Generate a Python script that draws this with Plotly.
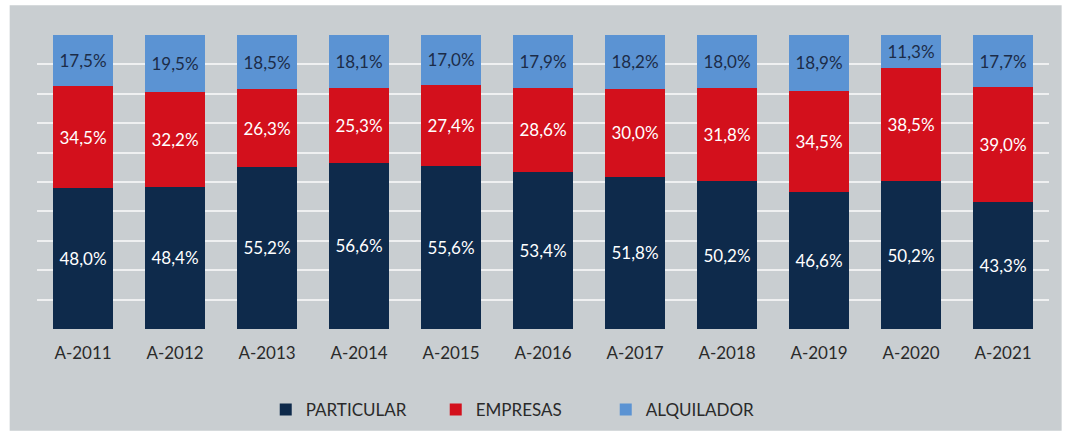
import plotly.graph_objects as go

years = ["A-2011", "A-2012", "A-2013", "A-2014", "A-2015", "A-2016",
         "A-2017", "A-2018", "A-2019", "A-2020", "A-2021"]
particular = [48.0, 48.4, 55.2, 56.6, 55.6, 53.4, 51.8, 50.2, 46.6, 50.2, 43.3]
empresas = [34.5, 32.2, 26.3, 25.3, 27.4, 28.6, 30.0, 31.8, 34.5, 38.5, 39.0]
alquilador = [17.5, 19.5, 18.5, 18.1, 17.0, 17.9, 18.2, 18.0, 18.9, 11.3, 17.7]

def fmt(v):
    return f"{v:.1f}%".replace(".", ",")

FONT = "Lato"
fig = go.Figure()
series = [
    ("PARTICULAR", particular, "#0e2a4b", "white"),
    ("EMPRESAS", empresas, "#d3101c", "white"),
    ("ALQUILADOR", alquilador, "#5b93d3", "#1c2c48"),
]
for name, vals, col, tcol in series:
    fig.add_trace(go.Bar(
        x=years, y=vals, name=name, marker_color=col,
        marker_line_width=0,
        text=[fmt(v) for v in vals], textposition="inside",
        insidetextanchor="middle", textangle=0,
        textfont=dict(color=tcol, size=17, family=FONT),
        constraintext="none",
    ))

fig.update_layout(
    barmode="stack",
    bargap=0.35,
    width=1069, height=439,
    margin=dict(l=37, r=20, t=35, b=109),
    paper_bgcolor="white",
    plot_bgcolor="rgba(0,0,0,0)",
    font=dict(family=FONT, size=16, color="#2a2a2a"),
    showlegend=True,
    legend=dict(orientation="h", x=0.478, xanchor="center", y=-0.21, yanchor="top",
                bgcolor="rgba(0,0,0,0)",
                font=dict(size=17, family=FONT, color="#2a2a2a"),
                itemwidth=30, traceorder="normal", entrywidth=125),
    shapes=[dict(type="rect", xref="paper", yref="paper",
                 x0=-0.027, x1=1.0125, y0=-0.346, y1=1.101,
                 fillcolor="#c9ced1", line_width=0, layer="below")],
)
fig.update_xaxes(showgrid=False, showline=False, ticks="", automargin=False,
                 ticklabelstandoff=12,
                 tickfont=dict(size=17, family=FONT, color="#2a2a2a"))
fig.update_yaxes(range=[0, 100], dtick=10, showticklabels=False, automargin=False,
                 gridcolor="rgba(255,255,255,0.7)", gridwidth=1.5,
                 zeroline=False, showline=False)

fig.write_html("out.html", post_script="document.body.style.margin='0';",
               config={"displayModeBar": False})
